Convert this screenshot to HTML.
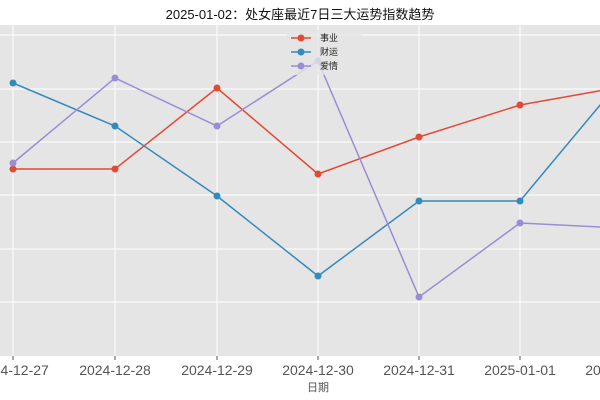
<!DOCTYPE html>
<html><head><meta charset="utf-8"><style>body{margin:0;background:#fff}svg{display:block}</style></head>
<body>
<svg width="600" height="400" xmlns="http://www.w3.org/2000/svg" font-family="Liberation Sans, Noto Sans CJK SC, sans-serif">
<rect x="0" y="0" width="600" height="400" fill="#fff"/>
<rect x="0" y="25" width="600" height="331" fill="#e5e5e5"/>
<g stroke="#fff" stroke-width="1">
<line x1="0" y1="35" x2="600" y2="35"/><line x1="0" y1="89" x2="600" y2="89"/><line x1="0" y1="142" x2="600" y2="142"/><line x1="0" y1="195" x2="600" y2="195"/><line x1="0" y1="249" x2="600" y2="249"/><line x1="0" y1="302" x2="600" y2="302"/>
<line x1="13" y1="25" x2="13" y2="356"/><line x1="115" y1="25" x2="115" y2="356"/><line x1="217" y1="25" x2="217" y2="356"/><line x1="318" y1="25" x2="318" y2="356"/><line x1="419" y1="25" x2="419" y2="356"/><line x1="520" y1="25" x2="520" y2="356"/>
</g>
<g stroke="#555" stroke-width="1"><line x1="13" y1="356" x2="13" y2="360"/><line x1="115" y1="356" x2="115" y2="360"/><line x1="217" y1="356" x2="217" y2="360"/><line x1="318" y1="356" x2="318" y2="360"/><line x1="419" y1="356" x2="419" y2="360"/><line x1="520" y1="356" x2="520" y2="360"/></g>
<g fill="none" stroke-width="1.5">
<polyline stroke="#E24A33" points="13,169 115,169 217,88 318,174 419,137 520,105 621,87"/>
<polyline stroke="#348ABD" points="13,83 115,126 217,196 318,276 419,201 520,201 621,80"/>
<polyline stroke="#988ED5" points="13,163 115,78 217,126 318,61 419,297 520,223 621,228"/>
</g>
<g fill="#E24A33"><circle cx="13" cy="169" r="3.5"/><circle cx="115" cy="169" r="3.5"/><circle cx="217" cy="88" r="3.5"/><circle cx="318" cy="174" r="3.5"/><circle cx="419" cy="137" r="3.5"/><circle cx="520" cy="105" r="3.5"/></g>
<g fill="#348ABD"><circle cx="13" cy="83" r="3.5"/><circle cx="115" cy="126" r="3.5"/><circle cx="217" cy="196" r="3.5"/><circle cx="318" cy="276" r="3.5"/><circle cx="419" cy="201" r="3.5"/><circle cx="520" cy="201" r="3.5"/></g>
<g fill="#988ED5"><circle cx="13" cy="163" r="3.5"/><circle cx="115" cy="78" r="3.5"/><circle cx="217" cy="126" r="3.5"/><circle cx="318" cy="61" r="3.5"/><circle cx="419" cy="297" r="3.5"/><circle cx="520" cy="223" r="3.5"/></g>
<rect x="287" y="30" width="74" height="45" fill="#e5e5e5" opacity="0.8"/>
<g stroke-width="1.5">
<line x1="291" y1="38" x2="311" y2="38" stroke="#E24A33"/><circle cx="301" cy="38" r="3.5" fill="#E24A33"/>
<line x1="291" y1="52" x2="311" y2="52" stroke="#348ABD"/><circle cx="301" cy="52" r="3.5" fill="#348ABD"/>
<line x1="291" y1="66" x2="311" y2="66" stroke="#988ED5"/><circle cx="301" cy="66" r="3.5" fill="#988ED5"/>
</g>
<g font-size="9" fill="#222"><text x="320" y="41">事业</text><text x="320" y="55">财运</text><text x="320" y="69">爱情</text></g>
<text x="300" y="19" font-size="13" text-anchor="middle" fill="#111">2025-01-02：处女座最近7日三大运势指数趋势</text>
<g font-size="14" fill="#555" text-anchor="middle">
<text x="13" y="375">2024-12-27</text><text x="115" y="375">2024-12-28</text><text x="217" y="375">2024-12-29</text><text x="318" y="375">2024-12-30</text><text x="419" y="375">2024-12-31</text><text x="520" y="375">2025-01-01</text><text x="621" y="375">2025-01-02</text>
</g>
<text x="318" y="391" font-size="11" fill="#555" text-anchor="middle">日期</text>
</svg>
</body></html>
